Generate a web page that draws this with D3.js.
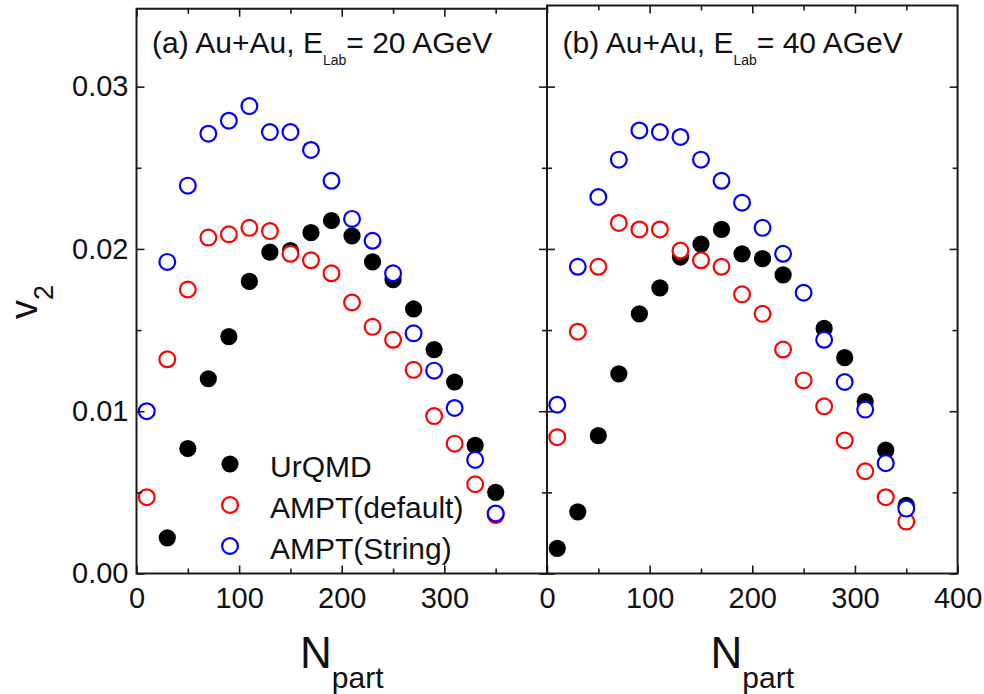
<!DOCTYPE html>
<html>
<head>
<meta charset="utf-8">
<script src="https://cdn.jsdelivr.net/npm/d3@7"></script>
<style>
  body { margin: 0; background: #fff; }
  svg { display: block; }
  text { font-family: "Liberation Sans", Arial, sans-serif; fill: #111; }
</style>
</head>
<body>
<svg id="chart" width="984" height="694"></svg>
<script>
// Number of participants (centrality bins)
const nPart = [10, 30, 50, 70, 90, 110, 130, 150, 170, 190, 210, 230, 250, 270, 290, 310, 330, 350];

// (a) Au+Au, E_Lab = 20 AGeV  — elliptic flow v2
const urqmd20  = [null, 0.0022, 0.0077, 0.0120, 0.0146, 0.0180, 0.0198, 0.0199, 0.0210, 0.02175, 0.0208, 0.0192, 0.0181, 0.0163, 0.0138, 0.0118, 0.0079, 0.0050];
const ampt20   = [0.0047, 0.0132, 0.0175, 0.0207, 0.0209, 0.0213, 0.0211, 0.0197, 0.0193, 0.0185, 0.0167, 0.0152, 0.0144, 0.01255, 0.0097, 0.0080, 0.0055, 0.0036];
const string20 = [0.0100, 0.0192, 0.0239, 0.0271, 0.0279, 0.0288, 0.0272, 0.0272, 0.0261, 0.0242, 0.02185, 0.0205, 0.0185, 0.0148, 0.0125, 0.0102, 0.0070, 0.0037];

// (b) Au+Au, E_Lab = 40 AGeV
const urqmd40  = [0.00155, 0.0038, 0.0085, 0.0123, 0.0160, 0.0176, 0.0195, 0.0203, 0.0212, 0.0197, 0.0194, 0.0184, null, 0.0151, 0.0133, 0.0106, 0.0076, 0.0042];
const ampt40   = [0.0084, 0.0149, 0.0189, 0.0216, 0.0212, 0.0212, 0.0199, 0.0193, 0.0189, 0.0172, 0.0160, 0.0138, 0.0119, 0.0103, 0.0082, 0.0063, 0.0047, 0.0032];
const string40 = [0.0104, 0.0189, 0.0232, 0.0255, 0.0273, 0.0272, 0.0269, 0.0255, 0.0242, 0.02285, 0.0213, 0.0197, 0.0173, 0.0144, 0.0118, 0.0101, 0.0068, 0.0040];

// Legend names and axis ticks
const seriesNames = ["UrQMD", "AMPT(default)", "AMPT(String)"];
const xTicksA = [0, 100, 200, 300];
const xTicksB = [0, 100, 200, 300, 400];
const xMinor = [50, 150, 250, 350];
const yTicks = [0, 0.01, 0.02, 0.03];
const yTickLabels = ["0.00", "0.01", "0.02", "0.03"];
const yMinor = [0.005, 0.015, 0.025];

const colors = ["#000000", "#ff0000", "#0000ff"];
const svg = d3.select("#chart");

// shared vertical scale
const y = d3.scaleLinear().domain([0, 0.035]).range([573.5, 5.5]);

const panels = [
  { left: 136.5, right: 547, yMax: 0.0348, letter: "(a)", energy: "20", series: [urqmd20, ampt20, string20], xTicks: xTicksA, yLabels: true, legend: true },
  { left: 547, right: 957.6, yMax: 0.035, letter: "(b)", energy: "40", series: [urqmd40, ampt40, string40], xTicks: xTicksB, yLabels: false, legend: false }
];

panels.forEach(p => {
  const x = d3.scaleLinear().domain([0, 400]).range([p.left, p.right]);
  const top = y(p.yMax), bottom = y(0);
  const g = svg.append("g");

  // markers: filled first, open (white-filled) circles on top
  p.series.forEach((vals, si) => {
    const pts = nPart.map((n, i) => ({ n, v: vals[i] })).filter(d => d.v != null);
    g.append("g").selectAll("circle").data(pts).join("circle")
      .attr("cx", d => x(d.n))
      .attr("cy", d => y(d.v))
      .attr("r", si === 0 ? 8.6 : 7.9)
      .attr("fill", si === 0 ? colors[0] : "#fff")
      .attr("stroke", colors[si])
      .attr("stroke-width", si === 0 ? 0 : 2.2);
  });

  // frame
  g.append("rect")
    .attr("x", p.left).attr("y", top)
    .attr("width", p.right - p.left).attr("height", bottom - top)
    .attr("fill", "none").attr("stroke", "#1a1a1a").attr("stroke-width", 2);

  const clean = sel => { sel.select(".domain").remove(); sel.selectAll("line").attr("stroke", "#1a1a1a").attr("stroke-width", 1.6); };
  const labelStyle = s => s.selectAll("text").attr("font-size", 29)
    .attr("font-family", "Liberation Sans, Arial, sans-serif").attr("fill", "#111");

  // bottom axis (ticks point inward)
  g.append("g").attr("transform", `translate(0,${bottom})`)
    .call(d3.axisBottom(x).tickValues(p.xTicks).tickSize(-8).tickPadding(14).tickFormat(d3.format("d")))
    .call(clean).call(labelStyle);
  g.append("g").attr("transform", `translate(0,${bottom})`)
    .call(d3.axisBottom(x).tickValues(xMinor).tickSize(-5).tickFormat("")).call(clean);
  // top axis
  g.append("g").attr("transform", `translate(0,${top})`)
    .call(d3.axisTop(x).tickValues(xTicksA).tickSize(-8).tickFormat("")).call(clean);
  g.append("g").attr("transform", `translate(0,${top})`)
    .call(d3.axisTop(x).tickValues(xMinor).tickSize(-5).tickFormat("")).call(clean);

  // left axis
  const yl = d3.axisLeft(y).tickValues(yTicks).tickSize(-8).tickPadding(8)
    .tickFormat((d, i) => p.yLabels ? yTickLabels[i] : "");
  g.append("g").attr("transform", `translate(${p.left},0)`).call(yl).call(clean).call(labelStyle);
  g.append("g").attr("transform", `translate(${p.left},0)`)
    .call(d3.axisLeft(y).tickValues(yMinor).tickSize(-5).tickFormat("")).call(clean);
  // right axis
  g.append("g").attr("transform", `translate(${p.right},0)`)
    .call(d3.axisRight(y).tickValues(yTicks).tickSize(-8).tickFormat("")).call(clean);
  g.append("g").attr("transform", `translate(${p.right},0)`)
    .call(d3.axisRight(y).tickValues(yMinor).tickSize(-5).tickFormat("")).call(clean);

  // panel title
  const t = g.append("text").attr("x", p.left + 15.5).attr("y", 53).attr("font-size", 30);
  t.append("tspan").text(`${p.letter} Au+Au, E`);
  t.append("tspan").attr("font-size", 14).attr("dy", 12).text("Lab");
  t.append("tspan").attr("dy", -12).text(`= ${p.energy} AGeV`);

  // x-axis title
  const xt = g.append("text").attr("x", (p.left + p.right) / 2).attr("y", 668)
    .attr("text-anchor", "middle").attr("font-size", 44);
  xt.append("tspan").text("N");
  xt.append("tspan").attr("font-size", 30).attr("dy", 20).text("part");

  // legend
  if (p.legend) {
    seriesNames.forEach((name, i) => {
      const cy = 464 + i * 41;
      g.append("circle").attr("cx", 230).attr("cy", cy)
        .attr("r", i === 0 ? 8.6 : 7.9)
        .attr("fill", i === 0 ? colors[0] : "#fff")
        .attr("stroke", colors[i]).attr("stroke-width", i === 0 ? 0 : 2.2);
      g.append("text").attr("x", 270).attr("y", cy + 12.5).attr("font-size", 30).text(name);
    });
  }
});

// y-axis title
const yt = svg.append("text").attr("transform", "translate(37,319) rotate(-90)").attr("font-size", 38);
yt.append("tspan").text("v");
yt.append("tspan").attr("font-size", 27).attr("dy", 16).text("2");
</script>
</body>
</html>
